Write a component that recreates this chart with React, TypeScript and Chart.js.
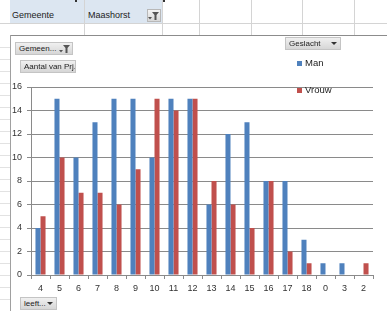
import React, { useEffect, useRef } from "react";
import { Chart, registerables } from "chart.js";

Chart.register(...registerables);

const categories = ["4", "5", "6", "7", "8", "9", "10", "11", "12", "13", "14", "15", "16", "17", "18", "0", "3", "2"];
const manValues = [4, 15, 10, 13, 15, 15, 10, 15, 15, 6, 12, 13, 8, 8, 3, 1, 1, 0];
const vrouwValues = [5, 10, 7, 7, 6, 9, 15, 14, 15, 8, 6, 4, 8, 2, 1, 0, 0, 1];
const seriesNames = ["Man", "Vrouw"];
const seriesColors = ["#4F81BD", "#C0504D"];
const yMin = 0;
const yMax = 16;
const yStep = 2;

const FONT = "'Liberation Sans', Arial, sans-serif";

const btnStyle: React.CSSProperties = {
  position: "absolute",
  boxSizing: "border-box",
  background: "linear-gradient(#f0f0f0, #d6d6d6)",
  border: "1px solid #c4c4c4",
  fontFamily: FONT,
  fontSize: 8,
  color: "#222",
  lineHeight: "11px",
  paddingLeft: 3,
  whiteSpace: "nowrap",
  overflow: "hidden",
};

function Funnel({ x, y }: { x: number; y: number }) {
  return (
    <svg style={{ position: "absolute", left: x, top: y }} width={12} height={10}>
      <polygon points="4,1 11,1 8.5,4 8.5,9 6.5,9 6.5,4" fill="#555" />
      <polygon points="0,6 4,6 2,8.5" fill="#555" />
    </svg>
  );
}

function Arrow({ x, y }: { x: number; y: number }) {
  return (
    <svg style={{ position: "absolute", left: x, top: y }} width={7} height={5}>
      <polygon points="0,1 6,1 3,4" fill="#333" />
    </svg>
  );
}

export default function App() {
  const ref = useRef<HTMLCanvasElement>(null);

  useEffect(() => {
    document.body.style.margin = "0";
    const chart = new Chart(ref.current!, {
      type: "bar",
      data: {
        labels: categories,
        datasets: [
          {
            label: seriesNames[0],
            data: manValues,
            backgroundColor: seriesColors[0],
            borderWidth: 0,
            categoryPercentage: 0.53,
            barPercentage: 1,
          },
          {
            label: seriesNames[1],
            data: vrouwValues,
            backgroundColor: seriesColors[1],
            borderWidth: 0,
            categoryPercentage: 0.53,
            barPercentage: 1,
          },
        ],
      },
      options: {
        animation: false,
        responsive: false,
        devicePixelRatio: 1,
        layout: { padding: { left: 0, top: 87, right: 14, bottom: 0 } },
        plugins: { legend: { display: false }, tooltip: { enabled: false } },
        scales: {
          x: {
            grid: {
              display: true,
              drawOnChartArea: false,
              drawTicks: true,
              tickLength: 4,
              color: "#8a8a8a",
              offset: true,
            },
            border: { color: "#8a8a8a" },
            ticks: {
              color: "#333",
              font: { size: 9, family: FONT },
              padding: 4,
              maxRotation: 0,
              autoSkip: false,
            },
            afterFit: (s: any) => {
              s.height = 36;
            },
          },
          y: {
            min: yMin,
            max: yMax,
            ticks: {
              stepSize: yStep,
              color: "#333",
              font: { size: 9, family: FONT },
              padding: 5,
            },
            grid: { color: "#8a8a8a", tickLength: 4 },
            border: { color: "#8a8a8a" },
            afterFit: (s: any) => {
              s.width = 31;
            },
          },
        },
      },
    });
    return () => chart.destroy();
  }, []);

  const rowLines: number[] = [];
  for (let y = 47; y < 311; y += 12) rowLines.push(y);

  return (
    <div
      style={{
        position: "fixed",
        left: 0,
        top: 0,
        width: 387,
        height: 311,
        overflow: "hidden",
        background: "#fff",
        fontFamily: FONT,
      }}
    >
      {/* spreadsheet header band */}
      <div style={{ position: "absolute", left: 10, top: 0, width: 152, height: 23, background: "#dce6f1" }} />
      <div style={{ position: "absolute", left: 0, top: 23, width: 387, height: 1, background: "#d4d4d4" }} />
      <div style={{ position: "absolute", left: 84, top: 0, width: 1, height: 35, background: "#d4d4d4" }} />
      <div style={{ position: "absolute", left: 162, top: 0, width: 1, height: 35, background: "#d4d4d4" }} />
      <div style={{ position: "absolute", left: 199, top: 0, width: 1, height: 35, background: "#d4d4d4" }} />
      <div style={{ position: "absolute", left: 251, top: 0, width: 1, height: 35, background: "#d4d4d4" }} />
      <div style={{ position: "absolute", left: 302, top: 0, width: 1, height: 35, background: "#d4d4d4" }} />
      <div style={{ position: "absolute", left: 354, top: 0, width: 1, height: 35, background: "#d4d4d4" }} />
      <div style={{ position: "absolute", left: 75, top: 0, width: 2, height: 2, background: "#333" }} />
      <div style={{ position: "absolute", left: 163, top: 0, width: 2, height: 2, background: "#333" }} />
      <div style={{ position: "absolute", left: 12, top: 10, fontSize: 9, color: "#222" }}>Gemeente</div>
      <div style={{ position: "absolute", left: 88, top: 10, fontSize: 9, color: "#222" }}>Maashorst</div>
      <div
        style={{
          position: "absolute",
          left: 147,
          top: 9,
          width: 14,
          height: 13,
          boxSizing: "border-box",
          background: "linear-gradient(#f4f4f4, #d8d8d8)",
          border: "1px solid #b8b8b8",
        }}
      />
      <Funnel x={148} y={11} />

      {/* column A row lines */}
      {rowLines.map((y) => (
        <div key={y} style={{ position: "absolute", left: 0, top: y, width: 10, height: 1, background: "#e2e2e2" }} />
      ))}

      {/* chart border */}
      <div style={{ position: "absolute", left: 10, top: 35, width: 377, height: 1, background: "#8c8c8c" }} />
      <div style={{ position: "absolute", left: 10, top: 35, width: 1, height: 276, background: "#a0a0a0" }} />

      <canvas
        ref={ref}
        width={387}
        height={311}
        style={{ position: "absolute", left: 0, top: 0, width: 387, height: 311 }}
      />

      {/* pivot buttons */}
      <div style={{ ...btnStyle, left: 15, top: 42, width: 58, height: 13 }}>Gemeen...</div>
      <Funnel x={59} y={44} />
      <div style={{ ...btnStyle, left: 20, top: 60, width: 56, height: 13 }}>Aantal van Prj.</div>
      <div style={{ ...btnStyle, left: 20, top: 297, width: 37, height: 13 }}>leeft...</div>
      <Arrow x={47} y={301} />
      <div style={{ ...btnStyle, left: 285, top: 37, width: 56, height: 13 }}>Geslacht</div>
      <Arrow x={331} y={41} />

      {/* legend */}
      <div style={{ position: "absolute", left: 297, top: 61, width: 5, height: 5, background: seriesColors[0] }} />
      <div style={{ position: "absolute", left: 305, top: 57, fontSize: 9.5, color: "#222" }}>{seriesNames[0]}</div>
      <div style={{ position: "absolute", left: 297, top: 88, width: 5, height: 5, background: seriesColors[1] }} />
      <div style={{ position: "absolute", left: 305, top: 84, fontSize: 9.5, color: "#222" }}>{seriesNames[1]}</div>
    </div>
  );
}
